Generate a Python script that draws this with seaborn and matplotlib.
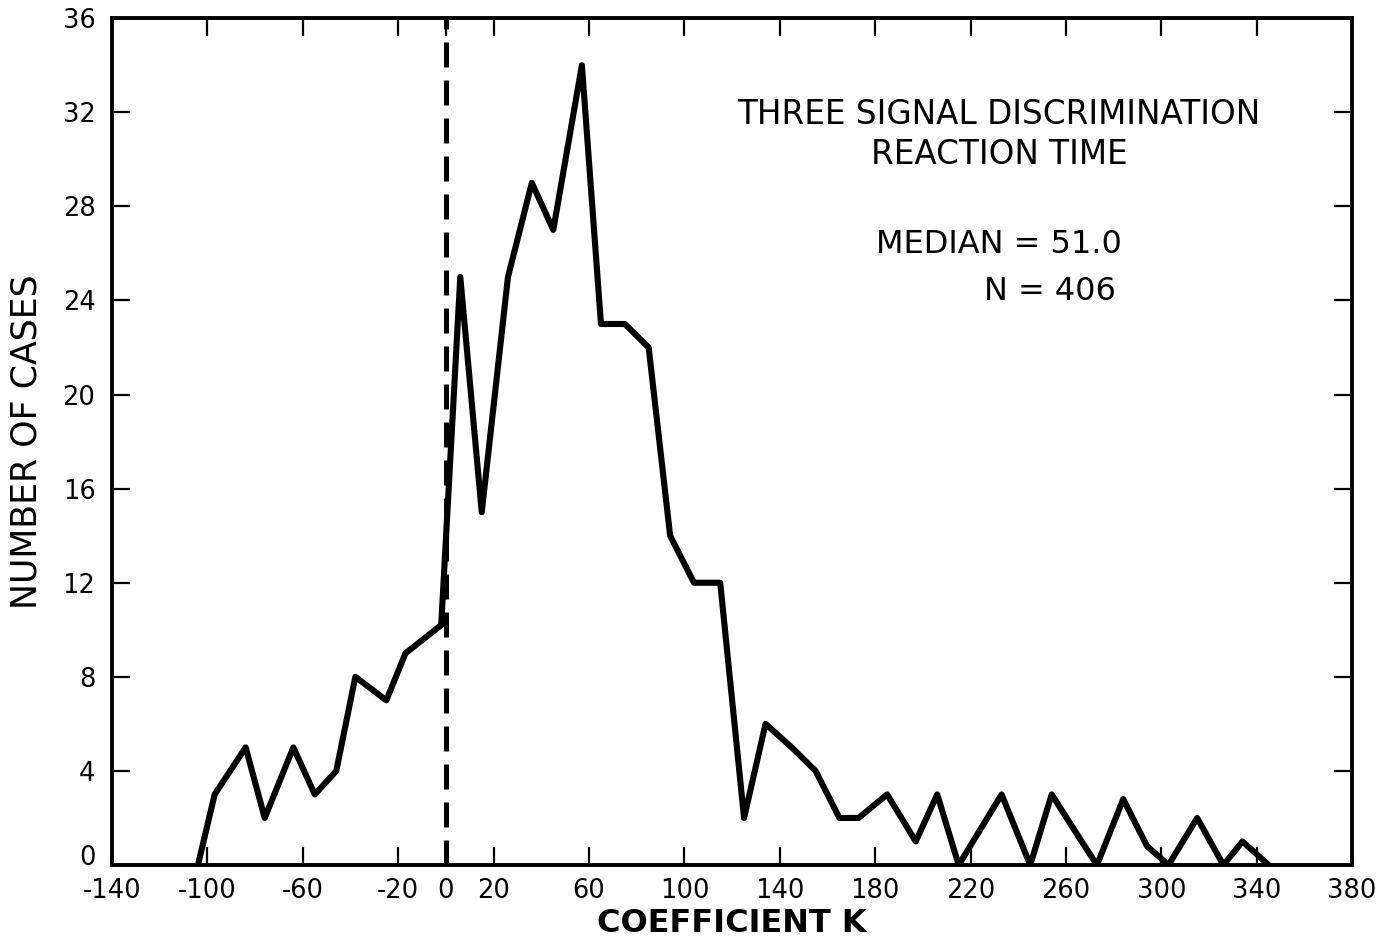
import matplotlib
matplotlib.use("Agg")
import matplotlib.pyplot as plt
import seaborn as sns
import pandas as pd

# Frequency polygon
coef_k = [-104, -97, -84, -76, -64, -55, -46, -38, -25, -17, -2, 6, 15, 26, 36, 45,
          57, 65, 75, 85, 94, 104, 115, 125, 134, 145, 155, 165, 173, 185, 197, 206,
          215, 233, 245, 254, 265, 273, 284, 294, 303, 315, 326, 334, 345]
n_cases = [0, 3, 5, 2, 5, 3, 4, 8, 7, 9, 10.2, 25, 15, 25, 29, 27,
           34, 23, 23, 22, 14, 12, 12, 2, 6, 5, 4, 2, 2, 3, 1, 3,
           0, 3, 0, 3, 1.25, 0, 2.8, 0.8, 0, 2, 0, 1, 0]

x_ticks = [-140, -100, -60, -20, 0, 20, 60, 100, 140, 180, 220, 260, 300, 340, 380]
y_ticks = [0, 4, 8, 12, 16, 20, 24, 28, 32, 36]
title_lines = ["THREE SIGNAL DISCRIMINATION", "REACTION TIME"]
median_text = "MEDIAN = 51.0"
n_text = "N = 406"
x_label = "COEFFICIENT K"
y_label = "NUMBER OF CASES"

sns.set_theme(style="white")
plt.rcParams["font.family"] = ["DejaVu Sans"]
plt.rcParams["text.color"] = "black"
plt.rcParams["axes.labelcolor"] = "black"

df = pd.DataFrame({"k": coef_k, "n": n_cases})

fig = plt.figure(figsize=(13.84, 9.43), dpi=100)
ax = fig.add_axes([0.081, 0.0827, 0.896, 0.898])

sns.lineplot(data=df, x="k", y="n", ax=ax, color="black", linewidth=4.4,
             estimator=None, sort=False)
ax.axvline(0, color="black", linewidth=3.6, linestyle=(0, (5, 2.6)))

ax.set_xlim(-140, 380)
ax.set_ylim(0, 36)
ax.set_xticks(x_ticks)
ax.set_yticks(y_ticks)
ax.set_xticklabels([str(t) for t in x_ticks])
ax.set_yticklabels([str(t) for t in y_ticks])

for s in ax.spines.values():
    s.set_visible(True)
    s.set_color("black")
    s.set_linewidth(2.8)

ax.tick_params(axis="both", which="both", direction="in", length=13, width=1.6,
               color="black", labelsize=18.5, labelcolor="black",
               top=True, right=True, bottom=True, left=True)
ax.tick_params(axis="x", pad=9)
ax.tick_params(axis="y", pad=12)

# keep the y "0" label above the x tick labels, as in the reference
ax.get_yticklabels()[0].set_verticalalignment("baseline")

ax.set_xlabel(x_label, fontsize=23, fontweight="bold", labelpad=3, color="black")
ax.set_ylabel(y_label, fontsize=25, labelpad=14, color="black")

ax.text(232, 31.9, title_lines[0], fontsize=23.5, ha="center", va="center", color="black")
ax.text(232, 30.2, title_lines[1], fontsize=23.5, ha="center", va="center", color="black")
ax.text(180.5, 26.4, median_text, fontsize=23, ha="left", va="center", color="black")
ax.text(225.5, 24.4, n_text, fontsize=23, ha="left", va="center", color="black")

ax.grid(False)
fig.savefig("out.png", dpi=100, facecolor="white")
